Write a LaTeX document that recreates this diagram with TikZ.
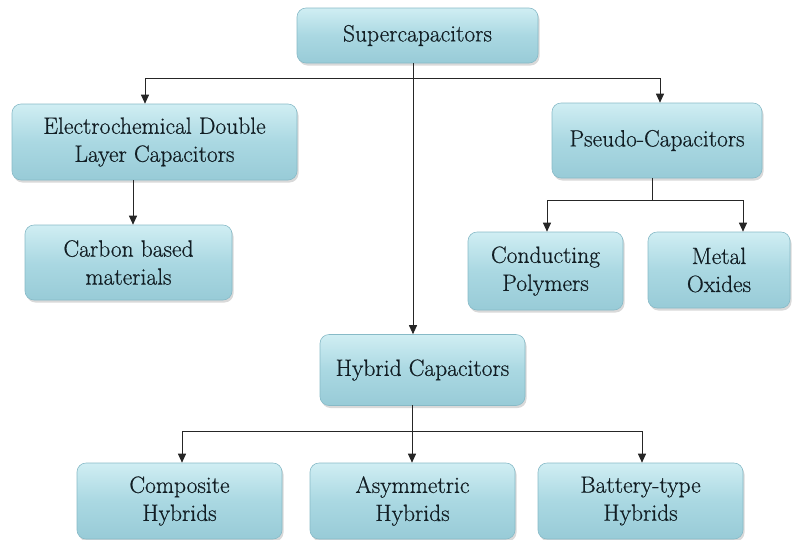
\documentclass[tikz,border=0pt]{standalone}
\usepackage{fontspec}
\newfontfamily\boxfont{Latin Modern Roman}[FakeBold=0.6]
\usetikzlibrary{shadows,arrows.meta,calc}
\definecolor{boxtop}{RGB}{208,238,243}
\definecolor{boxmid}{RGB}{170,216,226}
\definecolor{boxbot}{RGB}{152,203,215}
\definecolor{boxedge}{RGB}{135,186,199}
\definecolor{txt}{RGB}{18,30,36}
\tikzset{
  box/.style={rectangle, rounded corners=9pt, draw=boxedge, line width=0.6pt,
    top color=boxtop, bottom color=boxbot, middle color=boxmid,
    drop shadow={opacity=0.3, shadow xshift=1.5pt, shadow yshift=-2.5pt},
    text=txt, align=center, inner sep=0pt,
    font=\boxfont\fontsize{23.5}{28}\selectfont},
  conn/.style={line width=0.9pt, draw=black!85},
  arr/.style={conn, -{Triangle[length=9pt,width=8pt]}}
}
\begin{document}
\begin{tikzpicture}[x=1pt,y=-1pt]
\useasboundingbox (0,0) rectangle (796,539);
\node[box, minimum width=241pt, minimum height=55pt] (sup) at (417.5,35.5) {Supercapacitors};
\node[box, minimum width=285pt, minimum height=76pt] (edlc) at (154.5,142) {Electrochemical Double\\Layer Capacitors};
\node[box, minimum width=210pt, minimum height=75pt] (pseudo) at (657,140.5) {Pseudo-Capacitors};
\node[box, minimum width=207pt, minimum height=75pt] (carbon) at (128.5,262.5) {Carbon based\\materials};
\node[box, minimum width=155pt, minimum height=78pt] (cond) at (545.5,271) {Conducting\\Polymers};
\node[box, minimum width=142pt, minimum height=76pt] (metal) at (719,270) {Metal\\Oxides};
\node[box, minimum width=205pt, minimum height=71pt] (hybrid) at (422.5,370) {Hybrid Capacitors};
\node[box, minimum width=205pt, minimum height=76pt] (comp) at (179.5,501) {Composite\\Hybrids};
\node[box, minimum width=205pt, minimum height=76pt] (asym) at (412.5,501) {Asymmetric\\Hybrids};
\node[box, minimum width=205pt, minimum height=76pt] (batt) at (640.5,501) {Battery-type\\Hybrids};

% top level
\coordinate (tl) at (145,78);
\coordinate (tr) at (660,78);
\coordinate (trunk) at (413,63);
\draw[conn] (tl) -- (tr);
\draw[arr] (tl) -- (tl |- edlc.north);
\draw[arr] (tr) -- (tr |- pseudo.north);
\draw[arr] (trunk) -- (trunk |- hybrid.north);

% EDLC
\coordinate (ed) at (133,180);
\draw[arr] (ed) -- (ed |- carbon.north);

% pseudo
\coordinate (ps) at (652,178);
\coordinate (pl) at (547,200);
\coordinate (pr) at (743,200);
\draw[conn] (ps) -- (ps |- pl);
\draw[conn] (pl) -- (pr);
\draw[arr] (pl) -- (pl |- cond.north);
\draw[arr] (pr) -- (pr |- metal.north);

% hybrid
\coordinate (hs) at (412,405);
\coordinate (hl) at (182,431);
\coordinate (hm) at (412,431);
\coordinate (hr) at (642,431);
\draw[conn] (hs) -- (hm);
\draw[conn] (hl) -- (hr);
\draw[arr] (hl) -- (hl |- comp.north);
\draw[arr] (hm) -- (hm |- asym.north);
\draw[arr] (hr) -- (hr |- batt.north);
\end{tikzpicture}
\end{document}
